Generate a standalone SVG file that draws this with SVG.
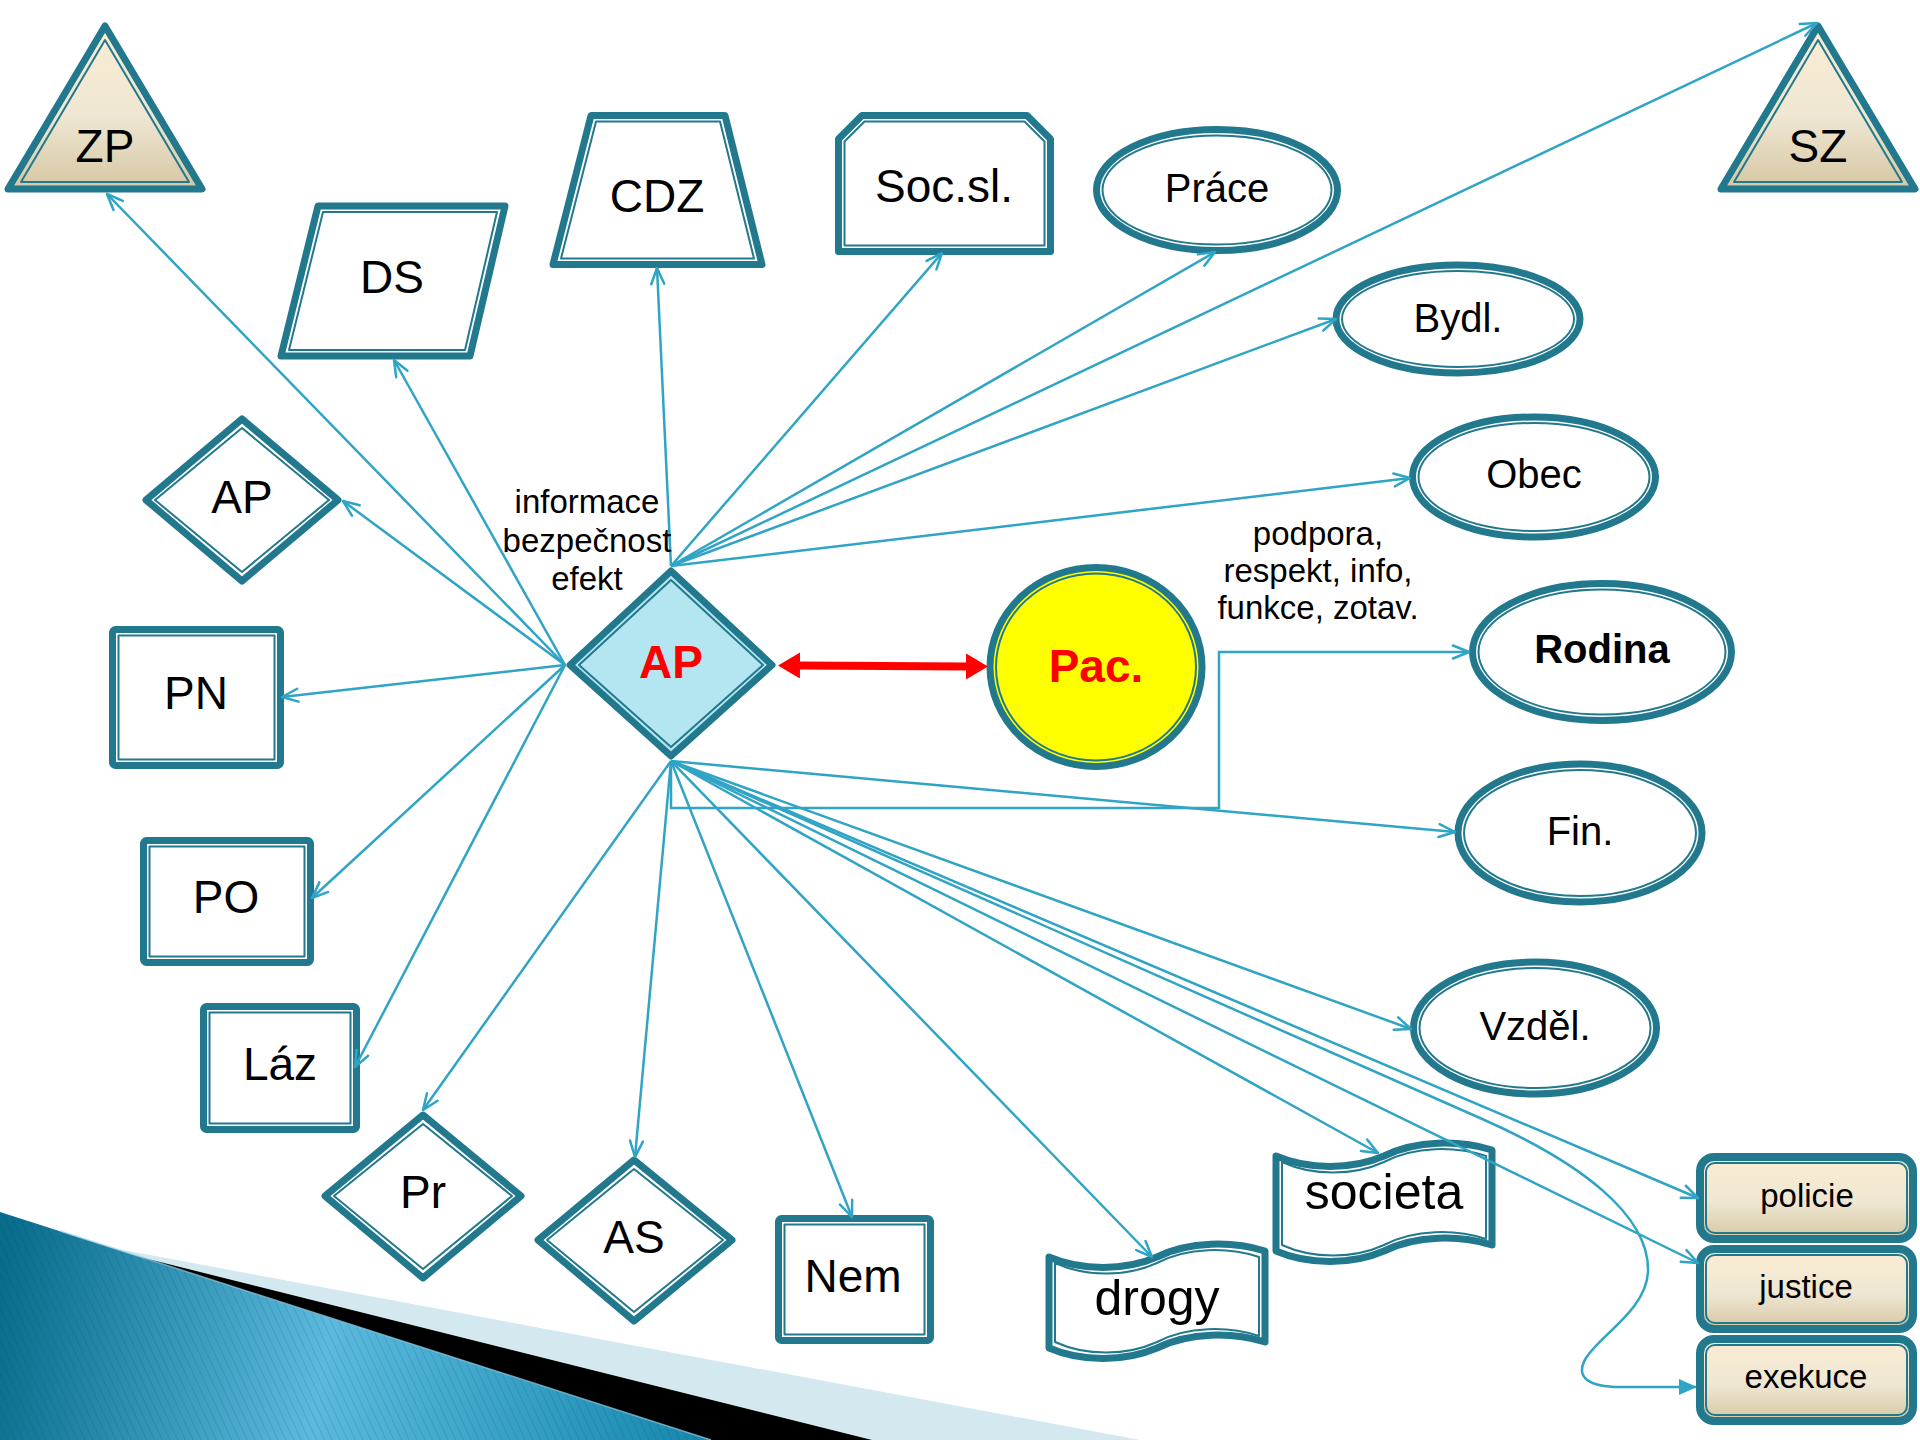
<svg xmlns="http://www.w3.org/2000/svg" width="1920" height="1440" viewBox="0 0 1920 1440">
<style>
.n{fill:#fff;stroke:#22798d;stroke-width:7;stroke-linejoin:round}
.tanf{fill:url(#tan)}
.yel{fill:#ffff00}
.cyan{fill:#b4e6f2}
.in{fill:none;stroke:#22798d;stroke-width:2;stroke-linejoin:round}
.t{font-family:"Liberation Sans",Arial,sans-serif;fill:#000;text-anchor:middle}
.big{font-size:46px}
.mid{font-size:40px}
.sm{font-size:33px}
.red{fill:#ff0000;font-weight:bold}
.c{fill:none;stroke:#30a4c5;stroke-width:2.5;marker-end:url(#ah)}
</style>
<defs>
<linearGradient id="tan" x1="0" y1="0" x2="0" y2="1">
<stop offset="0" stop-color="#fbecd2"/><stop offset="0.55" stop-color="#efe7d3"/><stop offset="1" stop-color="#d6c7a3"/>
</linearGradient>
<linearGradient id="blue" gradientUnits="userSpaceOnUse" x1="0" y1="1300" x2="720" y2="1440">
<stop offset="0" stop-color="#0a6d8c"/><stop offset="0.45" stop-color="#5bbade"/><stop offset="1" stop-color="#1385ab"/>
</linearGradient>
<pattern id="stripes" patternUnits="userSpaceOnUse" width="7" height="7" patternTransform="rotate(-25)">
<line x1="0" y1="0" x2="0" y2="7" stroke="#003a55" stroke-opacity="0.18" stroke-width="1.5"/>
</pattern>
<marker id="ah" viewBox="0 0 20 16" refX="18" refY="8" markerWidth="20" markerHeight="16" markerUnits="userSpaceOnUse" orient="auto">
<path d="M2,1.5 L18,8 L2,14.5" fill="none" stroke="#30a4c5" stroke-width="2.5" stroke-linecap="round" stroke-linejoin="round"/>
</marker>
<marker id="tri" viewBox="0 0 18 16" refX="17" refY="8" markerWidth="18" markerHeight="16" markerUnits="userSpaceOnUse" orient="auto">
<path d="M0,0 L18,8 L0,16 Z" fill="#30a4c5"/>
</marker>
<marker id="red" viewBox="0 0 22 26" refX="1" refY="13" markerWidth="22" markerHeight="26" markerUnits="userSpaceOnUse" orient="auto-start-reverse">
<path d="M0,0 L22,13 L0,26 Z" fill="#ff0000"/>
</marker>
</defs>

<rect x="0" y="0" width="1920" height="1440" fill="#fff"/>

<g id="decoration">
<polygon points="0,1227 1140,1440 0,1440" fill="#d4e8f0"/>
<polygon points="0,1222 872,1440 0,1440" fill="#000"/>
<polygon points="0,1212 711,1440 0,1440" fill="url(#blue)"/>
<polygon points="0,1212 711,1440 0,1440" fill="url(#stripes)"/>
<line x1="60" y1="1231" x2="711" y2="1440" stroke="#9ad3ea" stroke-width="1.5" stroke-opacity="0.7"/>
</g>

<g id="node-ZP">
<polygon class="n tanf" points="105,26 202,189 8,189"/>
<polygon class="in" points="105,40 189,182 21,182"/>
<text class="t big" x="105" y="162">ZP</text>
</g>
<g id="node-SZ">
<polygon class="n tanf" points="1818,26 1915,189 1721,189"/>
<polygon class="in" points="1818,40 1902,182 1734,182"/>
<text class="t big" x="1818" y="162">SZ</text>
</g>
<g id="node-DS">
<polygon class="n" points="318,206 505,206 470,356 281,356"/>
<polygon class="in" points="323,212 497,212 465,350 289,350"/>
<text class="t big" x="392" y="293">DS</text>
</g>
<g id="node-CDZ">
<polygon class="n" points="591,115.5 725,115.5 762,264.5 553,264.5"/>
<polygon class="in" points="596,121.5 720,121.5 754,258.5 561,258.5"/>
<text class="t big" x="657" y="212">CDZ</text>
</g>
<g id="node-Socsl">
<path class="n" d="M838.5,251.5 V139 L862,115.5 H1027 L1050.5,139 V251.5 Z"/>
<path class="in" d="M844.5,245.5 V141.5 L864.5,121.5 H1024.5 L1044.5,141.5 V245.5 Z"/>
<text class="t big" x="944" y="202">Soc.sl.</text>
</g>
<g id="node-Prace">
<ellipse class="n" cx="1217" cy="190" rx="120.5" ry="60.5"/>
<ellipse class="in" cx="1217" cy="190" rx="114.5" ry="54.5"/>
<text class="t mid" x="1217" y="202">Práce</text>
</g>
<g id="node-Bydl">
<ellipse class="n" cx="1458" cy="319" rx="122" ry="54"/>
<ellipse class="in" cx="1458" cy="319" rx="116" ry="48"/>
<text class="t mid" x="1458" y="332">Bydl.</text>
</g>
<g id="node-Obec">
<ellipse class="n" cx="1534" cy="477" rx="121.5" ry="60"/>
<ellipse class="in" cx="1534" cy="477" rx="115.5" ry="54"/>
<text class="t mid" x="1534" y="488">Obec</text>
</g>
<g id="node-Rodina">
<ellipse class="n" cx="1602" cy="652" rx="129.5" ry="68.5"/>
<ellipse class="in" cx="1602" cy="652" rx="123.5" ry="62.5"/>
<text class="t mid" x="1602" y="663" font-weight="bold">Rodina</text>
</g>
<g id="node-Fin">
<ellipse class="n" cx="1580" cy="833" rx="122" ry="69"/>
<ellipse class="in" cx="1580" cy="833" rx="116" ry="63"/>
<text class="t mid" x="1580" y="845">Fin.</text>
</g>
<g id="node-Vzdel">
<ellipse class="n" cx="1535" cy="1028" rx="121.5" ry="66"/>
<ellipse class="in" cx="1535" cy="1028" rx="115.5" ry="60"/>
<text class="t mid" x="1535" y="1040">Vzděl.</text>
</g>
<g id="node-Pac">
<ellipse class="n yel" cx="1096" cy="667" rx="106" ry="99.5"/>
<ellipse class="in" cx="1096" cy="667" rx="100" ry="93.5"/>
<text class="t big red" x="1096" y="682">Pac.</text>
</g>
<g id="node-AP-center">
<polygon class="n cyan" points="671,571 772,665 671,756 570,665"/>
<polygon class="in" points="671,580 763,665 671,747 579,665"/>
<text class="t big red" x="671" y="678">AP</text>
</g>
<g id="node-AP-left">
<polygon class="n" points="242,419 338,500 242,581 146,500"/>
<polygon class="in" points="242,428 329,500 242,572 155,500"/>
<text class="t big" x="242" y="513">AP</text>
</g>
<g id="node-PN">
<rect class="n" x="112.5" y="629.5" width="168" height="136" rx="3"/>
<rect class="in" x="118.5" y="635.5" width="156" height="124"/>
<text class="t big" x="196" y="709">PN</text>
</g>
<g id="node-PO">
<rect class="n" x="143.5" y="840.5" width="167" height="122" rx="3"/>
<rect class="in" x="149.5" y="846.5" width="155" height="110"/>
<text class="t big" x="226" y="913">PO</text>
</g>
<g id="node-Laz">
<rect class="n" x="203.5" y="1006.5" width="153" height="123" rx="3"/>
<rect class="in" x="209.5" y="1012.5" width="141" height="111"/>
<text class="t big" x="280" y="1080">Láz</text>
</g>
<g id="node-Pr">
<polygon class="n" points="423,1115 521,1196 423,1278 325,1196"/>
<polygon class="in" points="423,1124 512,1196 423,1269 334,1196"/>
<text class="t big" x="423" y="1208">Pr</text>
</g>
<g id="node-AS">
<polygon class="n" points="634,1160 732,1240 634,1321 538,1240"/>
<polygon class="in" points="634,1169 723,1240 634,1312 547,1240"/>
<text class="t big" x="634" y="1253">AS</text>
</g>
<g id="node-Nem">
<rect class="n" x="778.5" y="1218.5" width="152" height="122" rx="3"/>
<rect class="in" x="784.5" y="1224.5" width="140" height="110"/>
<text class="t big" x="853" y="1292">Nem</text>
</g>
<g id="node-drogy">
<path class="n" d="M1049,1257 C1081.4,1271 1124.6,1271 1157,1257 C1189.4,1241 1232.6,1241 1265,1251 L1265,1342 C1232.6,1332 1189.4,1332 1157,1348 C1124.6,1362 1081.4,1362 1049,1348 Z"/>
<path class="in" d="M1055,1263 C1085.6,1277 1126.4,1277 1157,1263 C1187.6,1247 1228.4,1247 1259,1257 L1259,1336 C1228.4,1326 1187.6,1326 1157,1342 C1126.4,1356 1085.6,1356 1055,1342 Z"/>
<text class="t" font-size="50" x="1157" y="1315">drogy</text>
</g>
<g id="node-societa">
<path class="n" d="M1276,1156 C1308.4,1170 1351.6,1170 1384,1156 C1416.4,1140 1459.6,1140 1492,1150 L1492,1245 C1459.6,1235 1416.4,1235 1384,1251 C1351.6,1265 1308.4,1265 1276,1251 Z"/>
<path class="in" d="M1282,1162 C1312.6,1176 1353.4,1176 1384,1162 C1414.6,1146 1455.4,1146 1486,1156 L1486,1239 C1455.4,1229 1414.6,1229 1384,1245 C1353.4,1259 1312.6,1259 1282,1245 Z"/>
<text class="t" font-size="50" x="1384" y="1209">societa</text>
</g>
<g id="node-policie">
<rect class="n tanf" x="1700" y="1157" width="213" height="82" rx="14" style="stroke-width:8"/>
<rect class="in" x="1706" y="1163" width="201" height="70" rx="9"/>
<text class="t sm" x="1807" y="1207">policie</text>
</g>
<g id="node-justice">
<rect class="n tanf" x="1700" y="1249" width="213" height="80" rx="14" style="stroke-width:8"/>
<rect class="in" x="1706" y="1255" width="201" height="68" rx="9"/>
<text class="t sm" x="1806" y="1298">justice</text>
</g>
<g id="node-exekuce">
<rect class="n tanf" x="1700" y="1339" width="213" height="82" rx="14" style="stroke-width:8"/>
<rect class="in" x="1706" y="1345" width="201" height="70" rx="9"/>
<text class="t sm" x="1806" y="1388">exekuce</text>
</g>

<g id="connectors">
<path class="c" d="M565,665 L107,194"/>
<path class="c" d="M565,665 L394,360"/>
<path class="c" d="M565,665 L343,501"/>
<path class="c" d="M565,665 L282,697"/>
<path class="c" d="M565,665 L312,898"/>
<path class="c" d="M565,665 L355,1067"/>
<path class="c" d="M671,566 L657,268"/>
<path class="c" d="M671,566 L942,253"/>
<path class="c" d="M671,566 L1215,252"/>
<path class="c" d="M671,566 L1817,23"/>
<path class="c" d="M671,566 L1336,319"/>
<path class="c" d="M671,566 L1410,478"/>
<path class="c" d="M671,761 V808 H1219 V652 H1469"/>
<path class="c" d="M671,761 L1455,832"/>
<path class="c" d="M671,761 L1411,1029"/>
<path class="c" d="M671,761 L1698,1198"/>
<path class="c" d="M671,761 L1698,1263"/>
<path fill="none" stroke="#30a4c5" stroke-width="2.5" marker-end="url(#tri)" d="M671,761 L1480,1118 C1580,1162 1650,1215 1648,1272 C1646,1310 1600,1335 1586,1358 C1574,1378 1590,1387 1620,1387 L1696,1387"/>
<path class="c" d="M671,761 L1378,1153"/>
<path class="c" d="M671,761 L1152,1257"/>
<path class="c" d="M671,761 L852,1217"/>
<path class="c" d="M671,761 L635,1157"/>
<path class="c" d="M671,761 L423,1110"/>
<path fill="none" stroke="#ff0000" stroke-width="8" marker-start="url(#red)" marker-end="url(#red)" d="M799,665.5 L967,666.5"/>
<text class="t sm" x="587" y="513">informace</text>
<text class="t sm" x="587" y="552">bezpečnost</text>
<text class="t sm" x="587" y="590">efekt</text>
<text class="t sm" x="1318" y="545">podpora,</text>
<text class="t sm" x="1318" y="582">respekt, info,</text>
<text class="t sm" x="1318" y="619">funkce, zotav.</text>
</g>
</svg>
